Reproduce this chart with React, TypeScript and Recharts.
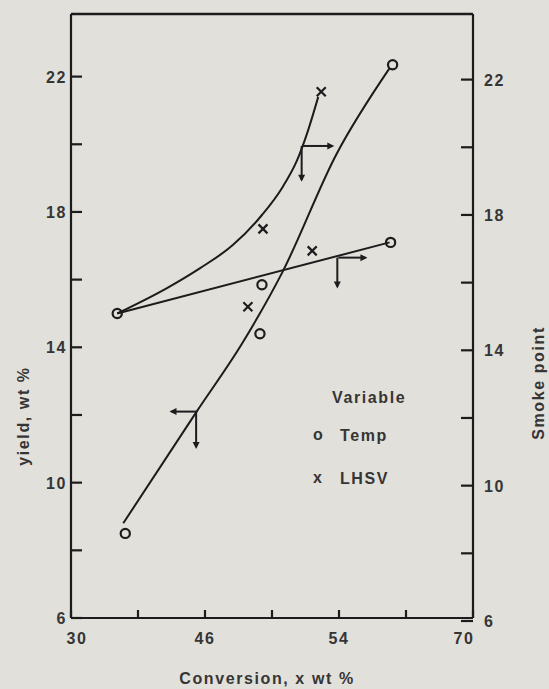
import React from "react";
import { ComposedChart, Line, Scatter, XAxis, YAxis, ReferenceLine } from "recharts";

// ---- data ----
const X_TICKS = [30, 36.667, 43.333, 50, 56.667, 63.333, 70];
const X_TICK_LABELS = ["30", "", "46", "", "54", "", "70"];
const Y_TICKS = [6, 8, 10, 12, 14, 16, 18, 20, 22];
const Y_TICK_LABELS = ["6", "", "10", "", "14", "", "18", "", "22"];
const Y_MIN = 6;
const Y_MAX = 23.85;
const X_MIN = 30;
const X_MAX = 70;

// yield (left axis) vs conversion, Temp variable
const yieldTempLine = [
  { x: 35.2, y: 8.8 },
  { x: 42.5, y: 12.1 },
  { x: 47.1, y: 14.15 },
  { x: 51.0, y: 16.2 },
  { x: 56.4, y: 19.7 },
  { x: 61.7, y: 22.25 },
];
// smoke point (right axis) vs conversion, Temp variable
const smokeTempLine = [
  { x: 34.6, y: 15.0 },
  { x: 61.7, y: 17.1 },
];
// smoke point (right axis) vs conversion, LHSV variable
const smokeLhsvCurve = [
  { x: 34.6, y: 15.0 },
  { x: 39.55, y: 15.75 },
  { x: 42.85, y: 16.34 },
  { x: 46.1, y: 17.02 },
  { x: 49.0, y: 17.91 },
  { x: 51.0, y: 18.71 },
  { x: 52.5, y: 19.53 },
  { x: 53.6, y: 20.42 },
  { x: 54.6, y: 21.4 },
];
const tempPoints = [
  { x: 35.4, y: 8.5 },
  { x: 48.8, y: 14.4 },
  { x: 62.0, y: 22.35 },
  { x: 34.6, y: 15.0 },
  { x: 49.0, y: 15.85 },
  { x: 61.8, y: 17.1 },
];
const lhsvPoints = [
  { x: 54.9, y: 21.55 },
  { x: 49.1, y: 17.5 },
  { x: 54.0, y: 16.85 },
  { x: 47.6, y: 15.2 },
];
// reading arrows (start on a curve, end with a head)
const arrowYieldLeft = [{ x: 42.55, y: 12.1 }, { x: 40.0, y: 12.1, dir: "left" }];
const arrowYieldDown = [{ x: 42.45, y: 12.1 }, { x: 42.45, y: 11.05, dir: "down" }];
const arrowLhsvRight = [{ x: 53.0, y: 19.95 }, { x: 56.0, y: 19.95, dir: "right" }];
const arrowLhsvDown = [{ x: 52.95, y: 19.95 }, { x: 52.95, y: 18.95, dir: "down" }];
const arrowTempRight = [{ x: 56.6, y: 16.65 }, { x: 59.3, y: 16.65, dir: "right" }];
const arrowTempDown = [{ x: 56.5, y: 16.65 }, { x: 56.5, y: 15.8, dir: "down" }];

const INK = "#1c1c1c";
const TEXT = "#353535";
const FONT = "'Liberation Sans', Arial, sans-serif";
const textStyle = { fontFamily: FONT, fontSize: 16, fontWeight: 700, letterSpacing: 1.6, fill: TEXT } as const;

const LeftTick = (p: any) => {
  const { x, y, payload } = p;
  const i = Y_TICKS.indexOf(payload.value);
  const label = i >= 0 ? Y_TICK_LABELS[i] : "";
  return (
    <g>
      <line x1={x} x2={x + 11} y1={y} y2={y} stroke={INK} strokeWidth={2.2} />
      {label && (
        <text x={x - 4} y={y + 6} textAnchor="end" style={textStyle}>
          {label}
        </text>
      )}
    </g>
  );
};

const RightTick = (p: any) => {
  const { x, y, payload } = p;
  const i = Y_TICKS.indexOf(payload.value);
  const label = i >= 0 ? Y_TICK_LABELS[i] : "";
  return (
    <g>
      <line x1={x} x2={x - 12} y1={y + 3} y2={y + 3} stroke={INK} strokeWidth={2.2} />
      {label && (
        <text x={x + 11} y={y + 9} textAnchor="start" style={textStyle}>
          {label}
        </text>
      )}
    </g>
  );
};

const BottomTick = (p: any) => {
  const { x, y, index } = p;
  const label = X_TICK_LABELS[index] || "";
  const dx = index === 0 ? 6 : index === X_TICKS.length - 1 ? -9 : 0;
  return (
    <g>
      <line x1={x} x2={x} y1={y} y2={y - 8} stroke={INK} strokeWidth={2.2} />
      {label && (
        <text x={x + dx} y={y + 26} textAnchor="middle" style={textStyle}>
          {label}
        </text>
      )}
    </g>
  );
};

const ArrowDot = (p: any) => {
  const { cx, cy, index, payload } = p;
  if (index !== 1 || cx == null || cy == null) return <g key={`n-${index}`} />;
  const L = 7;
  const W = 3.5;
  const d = payload && payload.dir;
  let pts = "";
  if (d === "left") pts = `${cx - 2},${cy} ${cx - 2 + L},${cy - W} ${cx - 2 + L},${cy + W}`;
  else if (d === "right") pts = `${cx + 2},${cy} ${cx + 2 - L},${cy - W} ${cx + 2 - L},${cy + W}`;
  else pts = `${cx},${cy + 2} ${cx - W},${cy + 2 - L} ${cx + W},${cy + 2 - L}`;
  return <polygon key={`a-${index}`} points={pts} fill={INK} />;
};

const CircleShape = (p: any) => (
  <circle cx={p.cx} cy={p.cy} r={4.6} fill="none" stroke={INK} strokeWidth={2.2} />
);
const CrossShape = (p: any) => {
  const s = 4.5;
  return (
    <g>
      <line x1={p.cx - s} y1={p.cy - s} x2={p.cx + s} y2={p.cy + s} stroke={INK} strokeWidth={2.2} />
      <line x1={p.cx - s} y1={p.cy + s} x2={p.cx + s} y2={p.cy - s} stroke={INK} strokeWidth={2.2} />
    </g>
  );
};

const arrows = [arrowYieldLeft, arrowYieldDown, arrowLhsvRight, arrowLhsvDown, arrowTempRight, arrowTempDown];

export default function App() {
  return (
    <div
      style={{
        position: "absolute",
        left: 0,
        top: 0,
        width: 549,
        height: 689,
        background: "#e2e0db",
        overflow: "hidden",
      }}
    >
      <ComposedChart
        width={549}
        height={689}
        margin={{ top: 14, right: 0, bottom: 0, left: 0 }}
        style={{ position: "absolute", left: 0, top: 0 }}
      >
        <XAxis
          dataKey="x"
          type="number"
          domain={[X_MIN, X_MAX]}
          ticks={X_TICKS}
          interval={0}
          height={71}
          tickSize={0}
          tickMargin={0}
          tickLine={false}
          axisLine={{ stroke: INK, strokeWidth: 2.2 }}
          tick={<BottomTick />}
          allowDataOverflow
          label={() => (
            <text x={267} y={684} textAnchor="middle" style={textStyle}>
              Conversion, x wt %
            </text>
          )}
        />
        <YAxis
          yAxisId="left"
          dataKey="y"
          type="number"
          orientation="left"
          domain={[Y_MIN, Y_MAX]}
          ticks={Y_TICKS}
          interval={0}
          width={71}
          tickSize={0}
          tickMargin={0}
          tickLine={false}
          axisLine={{ stroke: INK, strokeWidth: 2.2 }}
          tick={<LeftTick />}
          allowDataOverflow
          label={() => (
            <g transform="translate(23 416) rotate(-90)">
              <text x={0} y={6} textAnchor="middle" style={textStyle}>
                yield, wt %
              </text>
            </g>
          )}
        />
        <YAxis
          yAxisId="right"
          dataKey="y"
          type="number"
          orientation="right"
          domain={[Y_MIN, Y_MAX]}
          ticks={Y_TICKS}
          interval={0}
          width={76}
          tickSize={0}
          tickMargin={0}
          tickLine={false}
          axisLine={{ stroke: INK, strokeWidth: 2.2 }}
          tick={<RightTick />}
          allowDataOverflow
          label={() => (
            <g transform="translate(538 383) rotate(-90)">
              <text x={0} y={6} textAnchor="middle" style={textStyle}>
                Smoke point
              </text>
            </g>
          )}
        />
        <ReferenceLine yAxisId="left" y={Y_MAX} stroke={INK} strokeWidth={2.4} ifOverflow="visible" />

        <Line
          yAxisId="left"
          data={yieldTempLine}
          dataKey="y"
          type="monotone"
          stroke={INK}
          strokeWidth={2}
          dot={false}
          isAnimationActive={false}
        />
        <Line
          yAxisId="right"
          data={smokeTempLine}
          dataKey="y"
          type="linear"
          stroke={INK}
          strokeWidth={2}
          dot={false}
          isAnimationActive={false}
        />
        <Line
          yAxisId="right"
          data={smokeLhsvCurve}
          dataKey="y"
          type="monotone"
          stroke={INK}
          strokeWidth={2}
          dot={false}
          isAnimationActive={false}
        />
        {arrows.map((a, i) => (
          <Line
            key={`arrow-${i}`}
            yAxisId="left"
            data={a}
            dataKey="y"
            type="linear"
            stroke={INK}
            strokeWidth={2}
            dot={<ArrowDot />}
            activeDot={false}
            isAnimationActive={false}
          />
        ))}
        <Scatter yAxisId="left" data={tempPoints} dataKey="y" shape={<CircleShape />} isAnimationActive={false} />
        <Scatter yAxisId="left" data={lhsvPoints} dataKey="y" shape={<CrossShape />} isAnimationActive={false} />
      </ComposedChart>

      <div
        style={{
          position: "absolute",
          left: 0,
          top: 0,
          fontFamily: FONT,
          fontSize: 16,
          fontWeight: 700,
          letterSpacing: 1.6,
          color: TEXT,
          lineHeight: "18px",
          pointerEvents: "none",
        }}
      >
        <div style={{ position: "absolute", left: 332, top: 389, whiteSpace: "nowrap" }}>Variable</div>
        <div style={{ position: "absolute", left: 313, top: 426, whiteSpace: "nowrap" }}>o</div>
        <div style={{ position: "absolute", left: 340, top: 427, whiteSpace: "nowrap" }}>Temp</div>
        <div style={{ position: "absolute", left: 313, top: 469, whiteSpace: "nowrap" }}>x</div>
        <div style={{ position: "absolute", left: 340, top: 470, whiteSpace: "nowrap" }}>LHSV</div>
      </div>
    </div>
  );
}
